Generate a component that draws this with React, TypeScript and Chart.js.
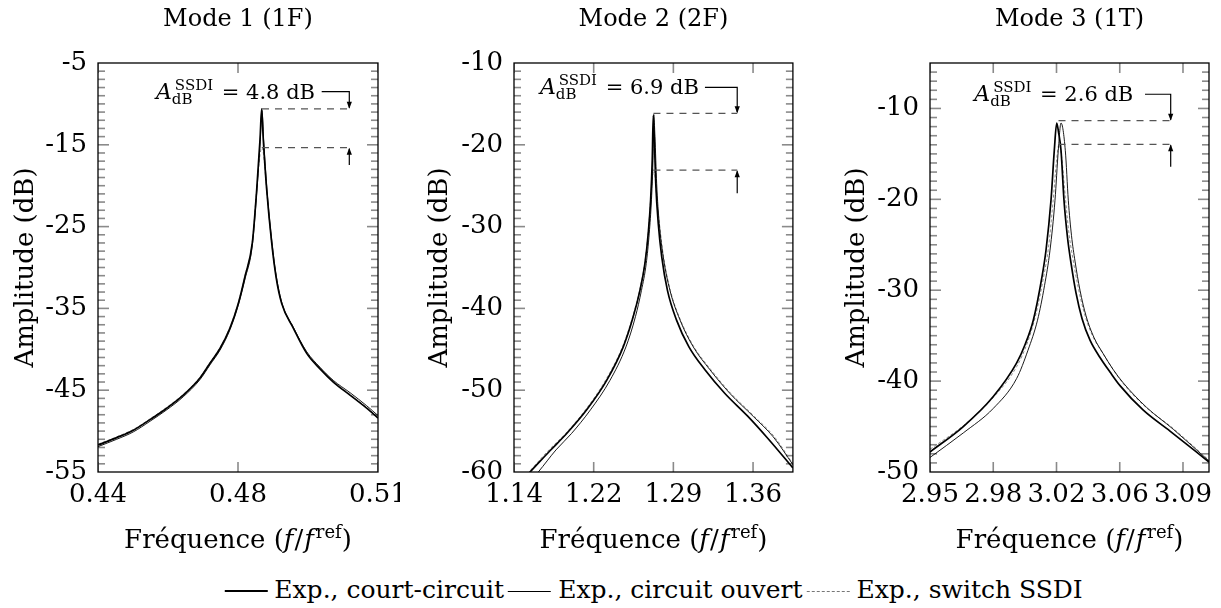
import React, { useEffect, useRef } from "react";
import { Chart, registerables } from "chart.js";

Chart.register(...registerables);

const FONT = "'DejaVu Serif', 'Liberation Serif', serif";
const TICK_COLOR = "#8a8a8a";

// ---------------- Panel 1 : Mode 1 (1F) ----------------
const p1CourtX = [0.44000, 0.44481, 0.44908, 0.45337, 0.45767, 0.46193, 0.46623, 0.46880, 0.47137, 0.47394, 0.47608, 0.47780, 0.47968, 0.48081, 0.48166, 0.48209, 0.48251, 0.48338, 0.48467, 0.48577, 0.48724, 0.49022, 0.49367, 0.49709, 0.50051, 0.50480, 0.50909, 0.51200];
const p1CourtY = [-51.7, -50.8, -49.9, -48.6, -47.2, -45.6, -43.5, -41.7, -39.9, -37.4, -34.4, -31.1, -27.0, -20.5, -14.4, -10.6, -14.4, -20.5, -27.0, -31.1, -34.4, -37.4, -40.5, -42.4, -44.0, -45.6, -47.2, -48.4];
const p1OpenX = [0.44000, 0.44481, 0.44908, 0.45337, 0.45767, 0.46193, 0.46623, 0.46880, 0.47137, 0.47394, 0.47608, 0.47780, 0.47968, 0.48081, 0.48170, 0.48215, 0.48258, 0.48345, 0.48475, 0.48585, 0.48732, 0.49030, 0.49367, 0.49709, 0.50051, 0.50480, 0.50909, 0.51200];
const p1OpenY = [-51.9, -51.0, -50.1, -48.8, -47.4, -45.8, -43.7, -41.9, -40.1, -37.6, -34.6, -31.4, -27.3, -20.9, -14.6, -10.8, -14.4, -20.5, -27.0, -31.1, -34.4, -37.4, -40.3, -42.2, -43.8, -45.3, -46.9, -48.1];
const p1SsdiX = [0.44000, 0.44481, 0.44908, 0.45337, 0.45767, 0.46193, 0.46623, 0.46880, 0.47137, 0.47394, 0.47608, 0.47780, 0.47968, 0.48081, 0.48166, 0.48212, 0.48258, 0.48338, 0.48467, 0.48577, 0.48724, 0.49022, 0.49367, 0.49709, 0.50051, 0.50480, 0.50909, 0.51200];
const p1SsdiY = [-51.6, -50.7, -49.8, -48.5, -47.1, -45.5, -43.4, -41.6, -39.8, -37.3, -34.3, -31.0, -26.9, -20.4, -16.2, -15.35, -16.2, -20.6, -27.1, -31.0, -34.3, -37.3, -40.4, -42.3, -43.9, -45.5, -47.1, -48.3];
const p1XTicks = [0.44, 0.476, 0.512];
const p1XLabels = ["0.44", "0.48", "0.51"];
const p1YTicks = [-55, -45, -35, -25, -15, -5];
const p1YLabels = ["-55", "-45", "-35", "-25", "-15", "-5"];

// ---------------- Panel 2 : Mode 2 (2F) ----------------
const p2CourtX = [1.15407, 1.15775, 1.17619, 1.19159, 1.21004, 1.22848, 1.24378, 1.25301, 1.25918, 1.26379, 1.26684, 1.26905, 1.27052, 1.27145, 1.27237, 1.27375, 1.27606, 1.27928, 1.28454, 1.29284, 1.30436, 1.31912, 1.33756, 1.35877, 1.37721, 1.40026];
const p2CourtY = [-60.5, -60.0, -57.4, -55.3, -52.4, -48.8, -44.7, -41.0, -37.8, -34.5, -30.8, -26.7, -21.9, -16.4, -19.0, -24.7, -29.6, -33.7, -37.8, -41.4, -44.7, -47.5, -50.4, -53.2, -55.9, -59.5];
const p2OpenX = [1.16144, 1.16541, 1.18173, 1.19602, 1.21354, 1.23152, 1.24627, 1.25503, 1.26057, 1.26499, 1.26776, 1.26979, 1.27117, 1.27191, 1.27301, 1.27458, 1.27698, 1.28067, 1.28685, 1.29607, 1.30833, 1.32373, 1.34217, 1.36366, 1.38210, 1.40026];
const p2OpenY = [-60.6, -60.0, -57.3, -55.3, -52.4, -48.8, -44.7, -41.0, -37.8, -34.5, -30.8, -26.7, -21.9, -16.3, -19.0, -24.7, -29.6, -33.7, -37.8, -41.4, -44.7, -47.5, -50.4, -53.2, -55.7, -59.1];
const p2SsdiX = [1.15222, 1.15683, 1.17527, 1.19049, 1.20893, 1.22737, 1.24305, 1.25254, 1.25881, 1.26361, 1.26674, 1.26896, 1.27071, 1.27191, 1.27320, 1.27486, 1.27726, 1.28094, 1.28721, 1.29653, 1.30898, 1.32465, 1.34309, 1.36476, 1.38320, 1.40026];
const p2SsdiY = [-60.7, -60.0, -57.3, -55.3, -52.4, -48.8, -44.7, -41.0, -37.8, -34.5, -30.8, -26.9, -24.0, -23.1, -24.0, -26.9, -29.8, -33.7, -37.8, -41.4, -44.7, -47.5, -50.4, -53.2, -55.7, -59.0];
const p2XTicks = [1.143, 1.2165, 1.29, 1.3635];
const p2XLabels = ["1.14", "1.22", "1.29", "1.36"];
const p2YTicks = [-60, -50, -40, -30, -20, -10];
const p2YLabels = ["-60", "-50", "-40", "-30", "-20", "-10"];

// ---------------- Panel 3 : Mode 3 (1T) ----------------
const p3CourtX = [2.94900, 2.96769, 2.98453, 2.99766, 3.00232, 3.00698, 3.01187, 3.01411, 3.01692, 3.01877, 3.02012, 3.02113, 3.02253, 3.02421, 3.02618, 3.02814, 3.03095, 3.03432, 3.03881, 3.04442, 3.05003, 3.05565, 3.06872, 3.08371, 3.10560];
const p3CourtY = [-47.8, -45.0, -41.7, -38.0, -36.0, -33.3, -28.5, -25.6, -20.1, -14.6, -11.6, -12.6, -14.6, -20.1, -24.2, -27.0, -30.3, -33.1, -35.5, -37.4, -39.0, -40.5, -43.2, -45.5, -48.9];
const p3OpenX = [2.94900, 2.96769, 2.98453, 2.99766, 3.00400, 3.00934, 3.01327, 3.01636, 3.01916, 3.02101, 3.02253, 3.02494, 3.02663, 3.02843, 3.03039, 3.03319, 3.03656, 3.04105, 3.04627, 3.05172, 3.05750, 3.07063, 3.08556, 3.10560];
const p3OpenY = [-48.4, -45.7, -43.0, -39.7, -36.6, -33.3, -29.5, -25.6, -20.1, -14.6, -11.6, -14.6, -20.1, -24.0, -26.8, -30.0, -32.8, -35.2, -37.0, -38.7, -40.2, -42.9, -45.3, -48.8];
const p3SsdiX = [2.94900, 2.96769, 2.98453, 2.99766, 3.00400, 3.00849, 3.01299, 3.01551, 3.01804, 3.02000, 3.02141, 3.02281, 3.02506, 3.02702, 3.02927, 3.03207, 3.03544, 3.03993, 3.04554, 3.05677, 3.06968, 3.08483, 3.10560];
const p3SsdiY = [-47.5, -44.9, -41.8, -38.4, -35.6, -32.6, -28.3, -25.3, -20.3, -15.8, -13.95, -15.2, -20.0, -23.8, -26.6, -29.6, -32.4, -34.9, -36.8, -40.1, -42.8, -45.1, -48.7];
const p3XTicks = [2.949, 2.9845, 3.02, 3.0555, 3.091];
const p3XLabels = ["2.95", "2.98", "3.02", "3.06", "3.09"];
const p3YTicks = [-50, -40, -30, -20, -10];
const p3YLabels = ["-50", "-40", "-30", "-20", "-10"];

const SERIES_NAMES = ["Exp., court-circuit", "Exp., circuit ouvert", "Exp., switch SSDI"];

type Annot = {
  value: string; arrowX: number; dashFromX: number; upper: number; lower: number;
  connY: number; lowStartY: number; textEndX: number; connStartX: number;
};

type Spec = {
  title: string;
  xMin: number; xMax: number; yMin: number; yMax: number;
  xTicks: number[]; xLabels: string[]; yTicks: number[]; yLabels: string[];
  court: [number[], number[]]; open: [number[], number[]]; ssdi: [number[], number[]];
  annot: Annot;
  left: number; width: number; yAxisWidth: number; padRight: number; yTitlePad: number;
};

const CANVAS_H = 570;
const PLOT_TOP = 63;
const PLOT_BOTTOM = 472;
const Y_MINOR_STEP = 1;

const specs: Spec[] = [
  {
    title: "Mode 1 (1F)", xMin: 0.44, xMax: 0.512, yMin: -55, yMax: -5,
    xTicks: p1XTicks, xLabels: p1XLabels, yTicks: p1YTicks, yLabels: p1YLabels,
    court: [p1CourtX, p1CourtY], open: [p1OpenX, p1OpenY], ssdi: [p1SsdiX, p1SsdiY],
    annot: { value: "4.8", arrowX: 0.50462, dashFromX: 0.48217, upper: -10.6, lower: -15.35, connY: -8.51, lowStartY: -17.47, textEndX: 0.4958, connStartX: 0.49752 },
    left: 0, width: 400, yAxisWidth: 98, padRight: 22, yTitlePad: 11,
  },
  {
    title: "Mode 2 (2F)", xMin: 1.143, xMax: 1.40026, yMin: -60, yMax: -10,
    xTicks: p2XTicks, xLabels: p2XLabels, yTicks: p2YTicks, yLabels: p2YLabels,
    court: [p2CourtX, p2CourtY], open: [p2OpenX, p2OpenY], ssdi: [p2SsdiX, p2SsdiY],
    annot: { value: "6.9", arrowX: 1.3489, dashFromX: 1.27163, upper: -16.15, lower: -23.1, connY: -12.97, lowStartY: -25.93, textEndX: 1.31358, connStartX: 1.31912 },
    left: 400, width: 400, yAxisWidth: 114, padRight: 7, yTitlePad: 25,
  },
  {
    title: "Mode 3 (1T)", xMin: 2.949, xMax: 3.1056, yMin: -50, yMax: -5,
    xTicks: p3XTicks, xLabels: p3XLabels, yTicks: p3YTicks, yLabels: p3YLabels,
    court: [p3CourtX, p3CourtY], open: [p3OpenX, p3OpenY], ssdi: [p3SsdiX, p3SsdiY],
    annot: { value: "2.6", arrowX: 3.0841, dashFromX: 3.02113, upper: -11.35, lower: -13.95, connY: -8.44, lowStartY: -16.41, textEndX: 3.06311, connStartX: 3.06968 },
    left: 810, width: 411, yAxisWidth: 120, padRight: 12, yTitlePad: 32,
  },
];

const pts = (xs: number[], ys: number[]) => xs.map((x, i) => ({ x, y: ys[i] }));

// inner tick marks (mirrored on all sides) as library-drawn 'line' points
function tickMarks(p: Spec) {
  const plotW = p.width - p.yAxisWidth - p.padRight;
  const plotH = PLOT_BOTTOM - PLOT_TOP;
  const dx = (p.xMax - p.xMin) / plotW;
  const dy = (p.yMax - p.yMin) / plotH;
  const out: { x: number; y: number; r: number; rot: number }[] = [];
  for (let v = p.yMin + Y_MINOR_STEP; v < p.yMax; v += Y_MINOR_STEP) {
    const r = p.yTicks.indexOf(v) >= 0 ? 5.5 : 3.5;
    out.push({ x: p.xMin + r * dx, y: v, r, rot: 0 });
    out.push({ x: p.xMax - r * dx, y: v, r, rot: 0 });
  }
  for (const v of p.xTicks) {
    out.push({ x: v, y: p.yMin + 5 * dy, r: 5, rot: 90 });
    out.push({ x: v, y: p.yMax - 5 * dy, r: 5, rot: 90 });
  }
  return out;
}

function drawRich(ctx: CanvasRenderingContext2D, parts: { t: string; font: string; dy?: number; dx?: number }[], cx: number, baseY: number) {
  const widths = parts.map((p) => { ctx.font = p.font; return ctx.measureText(p.t).width + (p.dx || 0); });
  const total = widths.reduce((a, b) => a + b, 0);
  let x = cx - total / 2;
  ctx.textAlign = "left";
  ctx.textBaseline = "alphabetic";
  parts.forEach((p, i) => {
    ctx.font = p.font;
    ctx.fillText(p.t, x, baseY + (p.dy || 0));
    x += widths[i];
  });
}

function arrowHead(ctx: CanvasRenderingContext2D, x: number, tipY: number, dir: number) {
  ctx.beginPath();
  ctx.moveTo(x, tipY);
  ctx.lineTo(x - 2.6, tipY - dir * 7);
  ctx.lineTo(x + 2.6, tipY - dir * 7);
  ctx.closePath();
  ctx.fill();
}

function decorPlugin(p: Spec) {
  return {
    id: "panelDecor",
    afterDraw(chart: any) {
      const ctx: CanvasRenderingContext2D = chart.ctx;
      const a = chart.chartArea;
      const xs = chart.scales["x"], ys = chart.scales["y"];
      const an = p.annot;
      ctx.save();

      // frame
      ctx.strokeStyle = "#000";
      ctx.lineWidth = 1.3;
      ctx.strokeRect(a.left, a.top, a.right - a.left, a.bottom - a.top);

      // title
      ctx.fillStyle = "#000";
      ctx.font = `24px ${FONT}`;
      ctx.textAlign = "center";
      ctx.textBaseline = "alphabetic";
      ctx.fillText(p.title, (a.left + a.right) / 2, 26);

      // x axis title
      const xf = 26;
      drawRich(ctx, [
        { t: "Fréquence (", font: `${xf}px ${FONT}` },
        { t: "f", font: `italic ${xf}px ${FONT}`, dx: 1 },
        { t: "/", font: `${xf}px ${FONT}`, dx: 1 },
        { t: "f", font: `italic ${xf}px ${FONT}`, dx: 2 },
        { t: "ref", font: `${Math.round(xf * 0.7)}px ${FONT}`, dy: -10 },
        { t: ")", font: `${xf}px ${FONT}` },
      ], (a.left + a.right) / 2, 548);

      // annotation
      const ax = xs.getPixelForValue(an.arrowX);
      const dx0 = xs.getPixelForValue(an.dashFromX);
      const uy = ys.getPixelForValue(an.upper);
      const ly = ys.getPixelForValue(an.lower);
      const cy = ys.getPixelForValue(an.connY);
      const lsy = ys.getPixelForValue(an.lowStartY);
      const cx0 = xs.getPixelForValue(an.connStartX);
      const tx1 = xs.getPixelForValue(an.textEndX);

      ctx.strokeStyle = "#555";
      ctx.lineWidth = 1.3;
      ctx.setLineDash([7, 6]);
      ctx.beginPath();
      ctx.moveTo(dx0, uy); ctx.lineTo(ax, uy);
      ctx.moveTo(dx0, ly); ctx.lineTo(ax, ly);
      ctx.stroke();
      ctx.setLineDash([]);

      ctx.strokeStyle = "#000";
      ctx.fillStyle = "#000";
      ctx.lineWidth = 1.2;
      ctx.beginPath();
      ctx.moveTo(cx0, cy); ctx.lineTo(ax, cy); ctx.lineTo(ax, uy - 1);
      ctx.moveTo(ax, lsy); ctx.lineTo(ax, ly + 1);
      ctx.stroke();
      arrowHead(ctx, ax, uy, 1);
      arrowHead(ctx, ax, ly, -1);

      // annotation text : A_dB^SSDI = v dB
      const mainF = `21px ${FONT}`;
      const italF = `italic 22px ${FONT}`;
      const scrF = `15px ${FONT}`;
      ctx.font = italF; const wA = ctx.measureText("A").width;
      ctx.font = scrF; const wSub = ctx.measureText("dB").width; const wSup = ctx.measureText("SSDI").width;
      const rest = ` = ${an.value} dB`;
      ctx.font = mainF; const wRest = ctx.measureText(rest).width;
      const scrW = Math.max(wSub, wSup + 3) + 2;
      const total = wA + scrW + wRest;
      const base = cy + 7;
      let x = tx1 - total;
      ctx.textAlign = "left";
      ctx.textBaseline = "alphabetic";
      ctx.font = italF; ctx.fillText("A", x, base); x += wA;
      ctx.font = scrF; ctx.fillText("dB", x, base + 5); ctx.fillText("SSDI", x + 3, base - 9); x += scrW;
      ctx.font = mainF; ctx.fillText(rest, x, base);
      ctx.restore();
    },
  };
}

function makeConfig(p: Spec): any {
  const tickFont = { family: FONT, size: 26 };
  const line = { showLine: true, pointRadius: 0, fill: false, cubicInterpolationMode: "monotone" };
  return {
    type: "scatter",
    data: {
      datasets: [
        { label: SERIES_NAMES[0], data: pts(p.court[0], p.court[1]), borderColor: "#000", borderWidth: 1.7, ...line },
        { label: SERIES_NAMES[1], data: pts(p.open[0], p.open[1]), borderColor: "#000", borderWidth: 0.9, ...line },
        { label: SERIES_NAMES[2], data: pts(p.ssdi[0], p.ssdi[1]), borderColor: "#8c8c8c", borderWidth: 1, borderDash: [3, 2], ...line },
        {
          label: "ticks",
          data: tickMarks(p),
          showLine: false,
          pointStyle: "line",
          pointRadius: (c: any) => (c.raw ? c.raw.r : 0),
          pointRotation: (c: any) => (c.raw ? c.raw.rot : 0),
          pointBorderColor: TICK_COLOR,
          pointBackgroundColor: TICK_COLOR,
          pointBorderWidth: 1.6,
          pointHoverRadius: 0,
        },
      ],
    },
    options: {
      responsive: false,
      maintainAspectRatio: false,
      animation: false,
      events: [],
      layout: { padding: { left: 0, top: PLOT_TOP, right: p.padRight, bottom: 0 } },
      plugins: { legend: { display: false }, tooltip: { enabled: false }, title: { display: false } },
      scales: {
        x: {
          type: "linear", min: p.xMin, max: p.xMax,
          grid: { display: false, drawTicks: false }, border: { display: false },
          ticks: {
            autoSkip: false, maxRotation: 0, minRotation: 0, padding: 8, color: "#000", font: tickFont,
            callback: (_v: any, i: number) => p.xLabels[i] ?? "",
          },
          afterBuildTicks: (s: any) => { s.ticks = p.xTicks.map((v) => ({ value: v })); },
          afterFit: (s: any) => { s.height = CANVAS_H - PLOT_BOTTOM; s.paddingLeft = 0; s.paddingRight = 0; },
        },
        y: {
          type: "linear", min: p.yMin, max: p.yMax,
          grid: { display: false, drawTicks: false }, border: { display: false },
          ticks: {
            autoSkip: false, padding: 11, color: "#000", font: tickFont,
            callback: (_v: any, i: number) => p.yLabels[i] ?? "",
          },
          title: { display: true, text: "Amplitude (dB)", color: "#000", font: { family: FONT, size: 26 }, padding: { top: p.yTitlePad, bottom: 0 } },
          afterBuildTicks: (s: any) => { s.ticks = p.yTicks.map((v) => ({ value: v })); },
          afterFit: (s: any) => { s.width = p.yAxisWidth; s.paddingTop = 0; s.paddingBottom = 0; },
        },
      },
    },
    plugins: [decorPlugin(p)],
  };
}

function Panel({ spec }: { spec: Spec }) {
  const ref = useRef<HTMLCanvasElement>(null);
  useEffect(() => {
    const chart = new Chart(ref.current as HTMLCanvasElement, makeConfig(spec));
    return () => chart.destroy();
  }, [spec]);
  return (
    <canvas
      ref={ref}
      width={spec.width}
      height={CANVAS_H}
      style={{ position: "absolute", left: spec.left, top: 0, width: spec.width, height: CANVAS_H }}
    />
  );
}

const sample = (style: React.CSSProperties) => (
  <span style={{ display: "inline-block", width: 43, height: 0, verticalAlign: "6px", marginRight: 7, ...style }} />
);

export default function App() {
  return (
    <div style={{ position: "absolute", left: 0, top: 0, width: 1221, height: 608, background: "#fff", overflow: "hidden" }}>
      {specs.map((s, i) => <Panel key={i} spec={s} />)}
      <div style={{ position: "absolute", left: 653.5, top: 576, transform: "translateX(-50%)", whiteSpace: "nowrap", fontFamily: FONT, fontSize: 25, color: "#000", lineHeight: "28px" }}>
        {sample({ borderTop: "2px solid #000" })}
        <span style={{ marginRight: 4 }}>{SERIES_NAMES[0]}</span>
        {sample({ borderTop: "1px solid #000" })}
        <span style={{ marginRight: 4 }}>{SERIES_NAMES[1]}</span>
        {sample({ borderTop: "1px dashed #777" })}
        <span>{SERIES_NAMES[2]}</span>
      </div>
    </div>
  );
}
